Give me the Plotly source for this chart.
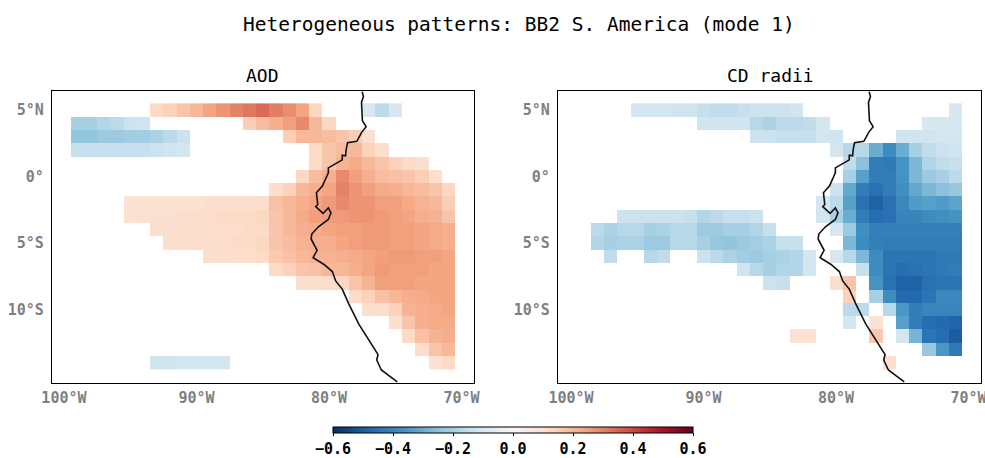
import plotly.graph_objects as go

lons = list(range(-100, -69))
lats = list(range(5, -15, -1))

# each row of a panel: (first longitude, values), one row per latitude in lats
aod_rows = [
    [(-93, [.12,.14,.17,.2,.24,.27,.3,.32,.34,.31,.28,.24,.13]), (-77, [-.1,-.16,-.1])],
    [(-99, [-.2,-.2,-.18,-.16,-.13,-.12]), (-86, [.15,.19,.22,.25,.29,.2,.13])],
    [(-99, [-.24,-.24,-.22,-.22,-.21,-.21,-.19,-.16,-.13]), (-83, [.15,.2,.2,.19,.17,.15,.1])],
    [(-99, [-.14,-.14,-.14,-.14,-.14,-.14,-.13,-.12,-.11]), (-81, [.12,.17,.19,.2,.14,.1])],
    [(-81, [.12,.17,.21,.23,.2,.17,.14,.12,.1])],
    [(-82, [.13,.19,.22,.29,.25,.22,.19,.18,.17,.15,.1])],
    [(-84, [.11,.14,.2,.22,.24,.3,.27,.25,.23,.22,.2,.19,.17,.13])],
    [(-95, [.09,.09,.09,.09,.09,.09,.1,.1,.1,.1,.11,.18,.2,.22,.24,.26,.29,.27,.27,.25,.25,.23,.21,.2,.15])],
    [(-95, [.09,.1,.1,.1,.11,.11,.11,.12,.12,.12,.13,.17,.2,.23,.25,.26,.26,.27,.27,.26,.25,.24,.22,.21,.17])],
    [(-93, [.1,.1,.1,.1,.1,.11,.11,.12,.12,.17,.2,.22,.23,.24,.25,.25,.26,.26,.25,.25,.24,.23,.22])],
    [(-92, [.1,.1,.11,.11,.11,.12,.12,.13,.17,.19,.21,.22,.22,.24,.25,.26,.26,.25,.25,.24,.23,.22])],
    [(-89, [.1,.1,.11,.11,.12,.16,.18,.2,.21,.21,.22,.23,.24,.25,.26,.26,.25,.25,.24])],
    [(-84, [.12,.14,.17,.18,.2,.2,.22,.24,.26,.25,.25,.25,.24,.24])],
    [(-82, [.1,.1,.11,.13,.17,.21,.25,.25,.25,.24,.24,.24])],
    [(-78, [.12,.14,.18,.2,.22,.23,.24,.24])],
    [(-77, [.1,.11,.14,.21,.22,.23,.24])],
    [(-75, [.1,.17,.22,.23,.23])],
    [(-74, [.12,.18,.21,.22])],
    [(-73, [.11,.17,.2])],
    [(-93, [-.12,-.12,-.11,-.11,-.11,-.11]), (-72, [.09,.12])],
]

cdr_rows = [
    [(-95, [-.11,-.11,-.11,-.12,-.12,-.14,-.15,-.15,-.14,-.13,-.13,-.13,-.12]), (-71, [-.1])],
    [(-90, [-.12,-.12,-.12,-.12,-.17,-.19,-.16,-.16,-.15,-.11]), (-73, [-.1,-.1,-.1])],
    [(-86, [-.13,-.13,-.14,-.14,-.14,-.11,-.12]), (-75, [-.12,-.12,-.12,-.11,-.11])],
    [(-80, [-.11,-.17,-.17,-.3,-.38,-.3,-.2,-.15,-.13,-.12])],
    [(-79, [-.15,-.25,-.42,-.43,-.36,-.27,-.18,-.15,-.14])],
    [(-79, [-.2,-.33,-.42,-.42,-.36,-.27,-.22,-.2,-.16])],
    [(-80, [-.13,-.31,-.42,-.45,-.42,-.37,-.31,-.27,-.25,-.23])],
    [(-81, [-.11,-.16,-.33,-.45,-.49,-.45,-.39,-.34,-.33,-.34,-.32])],
    [(-96, [-.13,-.13,-.13,-.13,-.13,-.14,-.18,-.16,-.14,-.14,-.13]),
     (-81, [-.11,-.2,-.3,-.42,-.46,-.45,-.4,-.4,-.38,-.37,-.36])],
    [(-98, [-.16,-.19,-.17,-.17,-.2,-.19,-.17,-.17,-.22,-.22,-.2,-.2,-.18,-.14]),
     (-80, [-.1,-.22,-.37,-.41,-.41,-.41,-.41,-.41,-.41,-.41])],
    [(-98, [-.18,-.2,-.19,-.19,-.22,-.22,-.17,-.17,-.2,-.23,-.24,-.22,-.21,-.19,-.14,-.14]),
     (-79, [-.27,-.38,-.41,-.42,-.42,-.42,-.42,-.42,-.42])],
    [(-97, [-.15]), (-94, [-.17,-.15]), (-90, [-.13,-.16,-.19,-.21,-.22,-.2,-.19,-.18,-.11]),
     (-80, [-.1,-.17,-.27,-.38,-.44,-.44,-.44,-.44,-.43,-.43])],
    [(-87, [-.12,-.17,-.2,-.18,-.18,-.11]), (-78, [-.14,-.38,-.44,-.46,-.45,-.44,-.43,-.42])],
    [(-85, [-.13,-.14]), (-80, [.1,.17]), (-77, [-.36,-.45,-.49,-.49,-.45,-.44,-.44])],
    [(-79, [.14]), (-77, [-.2,-.38,-.47,-.47,-.44,-.39,-.39])],
    [(-79, [-.16,-.16]), (-76, [-.17,-.35,-.42,-.4,-.4,-.4])],
    [(-79, [-.11]), (-77, [.09]), (-75, [-.33,-.42,-.46,-.47,-.48])],
    [(-83, [.09,.09]), (-77, [.16]), (-75, [-.11,-.28,-.44,-.46,-.5])],
    [(-73, [-.23,-.35,-.43])],
    [(-76, [.1])],
]

coast_lon = [-77.5,-77.4,-77.55,-77.5,-77.48,-77.2,-77.55,-77.9,-78.6,-78.7,-78.75,-79.0,-79.0,
             -80.05,-80.05,-80.5,-80.95,-80.85,-81.0,-80.45,-80.05,-79.85,-80.05,-80.8,-81.3,-81.35,
             -80.9,-81.2,-80.4,-79.75,-79.5,-79.0,-78.5,-77.75,-76.3,-76.4,-76.05,-74.85]
coast_lat = [6.37,6.02,5.57,4.8,4.2,3.75,3.3,2.65,2.55,2.05,1.55,1.6,1.25,
             .65,.28,-.72,-1.22,-2.1,-2.27,-2.78,-2.36,-2.73,-3.23,-3.78,-4.33,-4.7,
             -5.55,-6.1,-6.6,-7.15,-7.85,-8.47,-9.6,-11.1,-13.4,-13.8,-14.55,-15.45]

lon_ticks = [-100, -90, -80, -70]
lon_labels = ["100°W", "90°W", "80°W", "70°W"]
lat_ticks = [5, 0, -5, -10]
lat_labels = ["5°N", "0°", "5°S", "10°S"]
cbar_ticks = [-.6, -.4, -.2, 0, .2, .4, .6]
rdbu_r = ["#053061","#2166ac","#4393c3","#92c5de","#d1e5f0","#f7f7f7",
          "#fddbc7","#f4a582","#d6604d","#b2182b","#67001f"]
scale = [[i / 10, c] for i, c in enumerate(rdbu_r)]


def grid(rows):
    z = [[None] * len(lons) for _ in lats]
    for r, runs in enumerate(rows):
        for start, vals in runs:
            for k, v in enumerate(vals):
                z[r][start + k - lons[0]] = v
    return z


W, H = 985, 458
px = lambda x: x / W
py = lambda y: 1 - y / H
MONO = "DejaVu Sans Mono"
fig = go.Figure()
for i, rows in enumerate([aod_rows, cdr_rows]):
    n = "" if i == 0 else "2"
    fig.add_trace(go.Heatmap(
        x=lons, y=lats, z=grid(rows), zmin=-.6, zmax=.6, colorscale=scale,
        xaxis="x" + n, yaxis="y" + n, showscale=i == 0, hoverongaps=False,
        colorbar=dict(
            orientation="h", lenmode="pixels", len=360, thickness=6,
            x=px(513), xanchor="center", y=py(427), yanchor="top",
            xpad=0, ypad=0, outlinewidth=1, outlinecolor="black",
            tickvals=cbar_ticks, tickformat=".1f", ticks="outside", ticklen=3,
            tickcolor="black", tickfont=dict(family=MONO, size=15, color="black", weight=700),
        ),
    ))
    fig.add_trace(go.Scatter(
        x=coast_lon, y=coast_lat, mode="lines", line=dict(color="#111111", width=1.6),
        xaxis="x" + n, yaxis="y" + n, showlegend=False, hoverinfo="skip",
    ))

tick_font = dict(family=MONO, size=15, color="#808080", weight=700)
axis = dict(showgrid=False, zeroline=False, showline=True, linecolor="black", linewidth=1.3,
            mirror=True, ticks="outside", tickcolor="rgba(0,0,0,0)", tickfont=tick_font,
            ticklabeloverflow="allow")
panels = [(52, 474, -100.9, -69.06), (558, 981, -100.98, -69.06)]
for i, (x0, x1, r0, r1) in enumerate(panels):
    n = "" if i == 0 else "2"
    fig.update_layout({
        "xaxis" + n: dict(axis, domain=[px(x0), px(x1)], range=[r0, r1], anchor="y" + n,
                          tickvals=lon_ticks, ticktext=lon_labels, ticklen=1),
        "yaxis" + n: dict(axis, domain=[py(383), py(91)], range=[-15.53, 6.43], anchor="x" + n,
                          tickvals=lat_ticks, ticktext=lat_labels, ticklen=4),
    })

titles = [("Heterogeneous patterns: BB2 S. America (mode 1)", 519, 25, 19.5),
          ("AOD", 262, 76, 18), ("CD radii", 770, 76, 18)]
fig.update_layout(
    width=W, height=H, margin=dict(l=0, r=0, t=0, b=0, autoexpand=False), showlegend=False,
    paper_bgcolor="white", plot_bgcolor="white",
    annotations=[dict(text=t, x=px(x), y=py(y), xref="paper", yref="paper", showarrow=False,
                      xanchor="center", yanchor="middle", font=dict(family=MONO, size=s, color="black"))
                 for t, x, y, s in titles],
)
fig.write_html("out.html", config={"displayModeBar": False},
               post_script="document.body.style.margin='0';document.body.style.overflow='hidden';")
